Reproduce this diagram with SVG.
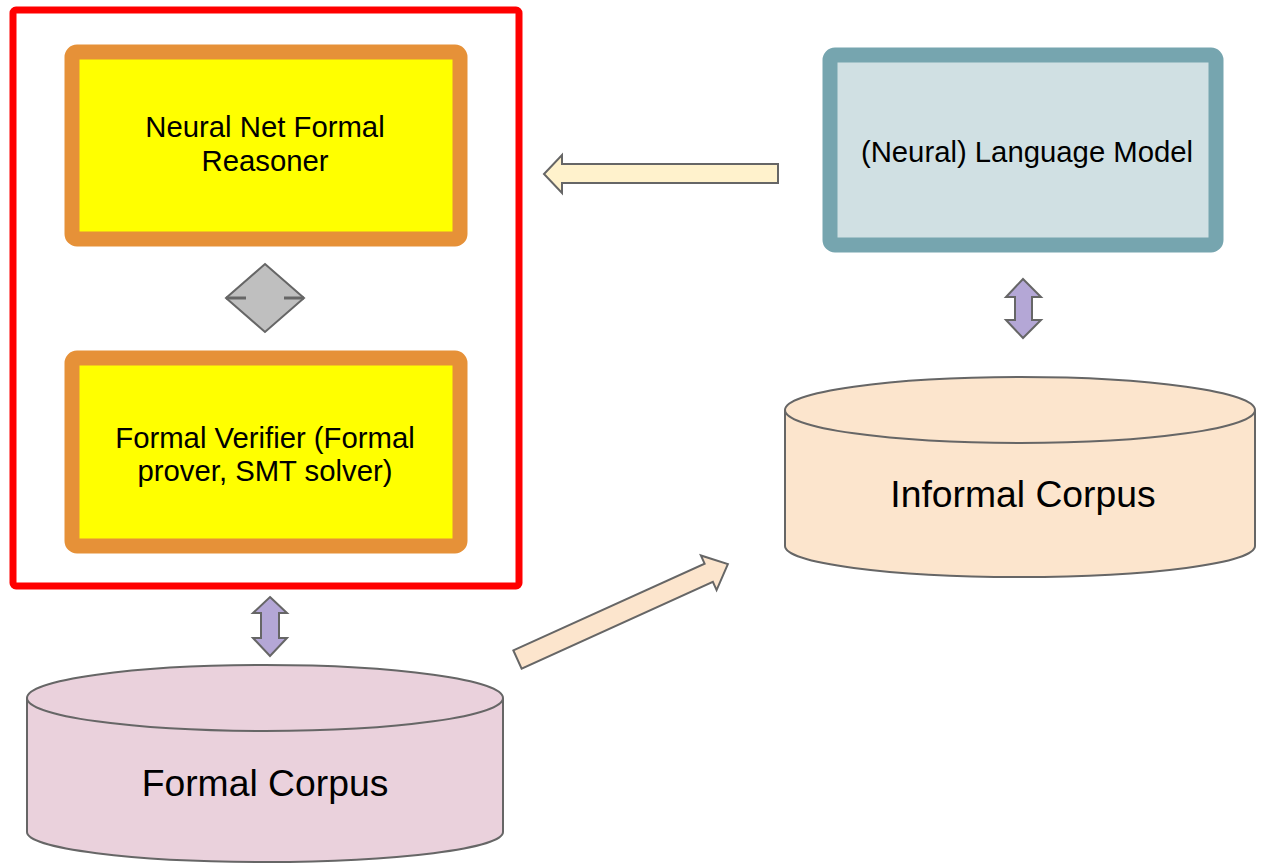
<svg xmlns="http://www.w3.org/2000/svg" width="1261" height="863" viewBox="0 0 1261 863">
<style>
text{font-family:"Liberation Sans",Arial,sans-serif;fill:#000;text-anchor:middle}
.t{font-size:29.3px}
.big{font-size:37.3px}
.arr{stroke:#666;stroke-width:2;stroke-linejoin:miter}
.dbl{fill:#b4a7d6}
.cyl{stroke:#666;stroke-width:2}
</style>
<rect width="1261" height="863" fill="#fff"/>
<g id="formal-system">
<rect x="13" y="10" width="506" height="576" rx="3" fill="#fff" stroke="#ff0000" stroke-width="7"/>
</g>
<g id="reasoner">
<rect x="72" y="52" width="388" height="187" rx="5" fill="#ffff00" stroke="#e69138" stroke-width="15"/>
<text class="t" x="265" y="137">Neural Net Formal</text>
<text class="t" x="265" y="171">Reasoner</text>
</g>
<g id="verifier">
<rect x="72" y="358" width="388" height="188" rx="5" fill="#ffff00" stroke="#e69138" stroke-width="15"/>
<text class="t" x="265" y="448">Formal Verifier (Formal</text>
<text class="t" x="265" y="481">prover, SMT solver)</text>
</g>
<g id="language-model">
<rect x="830" y="55" width="386" height="190" rx="5" fill="#d0e0e3" stroke="#76a5af" stroke-width="15"/>
<text class="t" x="1027" y="162">(Neural) Language Model</text>
</g>
<g id="formal-corpus">
<path class="cyl" fill="#ead1dc" d="M27,698 L27,832 A238,30 0 0 0 503,832 L503,698 A238,33 0 0 0 27,698 Z"/>
<path class="cyl" fill="none" d="M27,698 A238,33 0 0 0 503,698"/>
<text class="big" x="265" y="796">Formal Corpus</text>
</g>
<g id="informal-corpus">
<path class="cyl" fill="#fce5cd" d="M785,410 L785,546 A235,31 0 0 0 1255,546 L1255,410 A235,33 0 0 0 785,410 Z"/>
<path class="cyl" fill="none" d="M785,410 A235,33 0 0 0 1255,410"/>
<text class="big" x="1023" y="507">Informal Corpus</text>
</g>
<g id="connectors">
<g id="junction">
<polygon points="265,264 304,298 265,332 226,298" fill="#bfbfbf" stroke="#666" stroke-width="2"/>
<line x1="226" y1="298" x2="246" y2="298" stroke="#666" stroke-width="3"/>
<line x1="284" y1="298" x2="304" y2="298" stroke="#666" stroke-width="3"/>
</g>
<polygon class="arr" fill="#fff2cc" points="778,164 562,164 562,155 544,174 562,193 562,183 778,183"/>
<polygon class="arr dbl" points="270,597 287,613 279,613 279,638 287,638 270,656 253,638 261,638 261,613 253,613"/>
<polygon class="arr dbl" points="1023,279 1041,297 1032,297 1032,320 1041,320 1023,338 1006,320 1015,320 1015,297 1006,297"/>
<polygon class="arr" fill="#fce5cd" transform="translate(517.5,659.5) rotate(-24.4)" points="0,-10 210,-10 210,-19 231,0 210,19 210,10 0,10"/>
</g>
</svg>
